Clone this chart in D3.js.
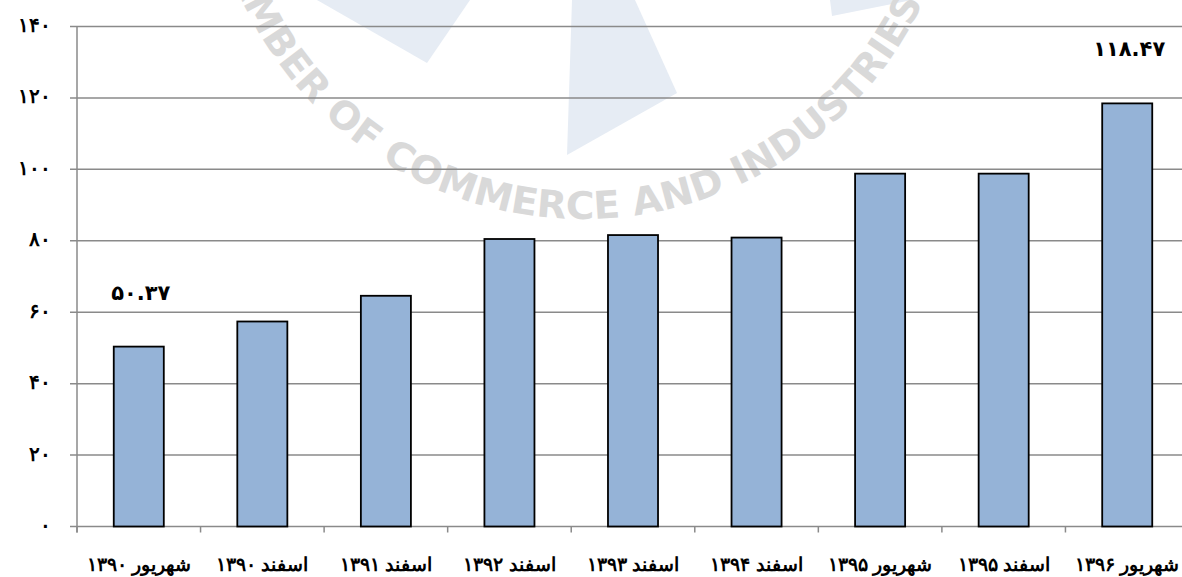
<!DOCTYPE html>
<html>
<head>
<meta charset="utf-8">
<script src="https://cdn.jsdelivr.net/npm/d3@7"></script>
<style>
    body { margin: 0; background: #ffffff; }
</style>
</head>
<body>
<div id="chart"></div>
<script>
// data
var categories = ["شهریور ۱۳۹۰", "اسفند ۱۳۹۰", "اسفند ۱۳۹۱", "اسفند ۱۳۹۲", "اسفند ۱۳۹۳",
    "اسفند ۱۳۹۴", "شهریور ۱۳۹۵", "اسفند ۱۳۹۵", "شهریور ۱۳۹۶"];
var values = [50.37, 57.4, 64.6, 80.5, 81.6, 80.9, 98.8, 98.8, 118.47];
var yTicks = [0, 20, 40, 60, 80, 100, 120, 140];
var labelledBars = [0, 8];   // only first and last bar have a value label

var width = 1182,
    height = 577;
var plotLeft = 77,
    plotRight = 1189,
    plotTop = 26.5,
    plotBottom = 526.5;

var faDigits = "۰۱۲۳۴۵۶۷۸۹";
function toFa(s) {
    return String(s).replace(/[0-9]/g, function (c) { return faDigits[+c]; });
}

var svg = d3.select("#chart").append("svg")
    .attr("width", width)
    .attr("height", height)
    .style("font-family", "'DejaVu Sans', sans-serif")
    .style("font-weight", "bold");

// faint watermark of the chamber logo behind the chart
var wm = svg.append("g").attr("class", "watermark");
var wmShapes = [
    [[317, 0], [470, 0], [427, 63]],
    [[572, 0], [635, 0], [677, 93], [567, 155]],
    [[830, 0], [912, 0], [832, 16]]
];
wm.selectAll("polygon")
    .data(wmShapes)
    .enter().append("polygon")
    .attr("points", function (d) { return d.map(function (p) { return p.join(","); }).join(" "); })
    .attr("fill", "#e6ecf4");
var arcR = 375;
var arcPath = d3.path();
arcPath.arc(583, -156, arcR, 169 * Math.PI / 180, 25 * Math.PI / 180, true);
wm.append("path")
    .attr("id", "wmArc")
    .attr("d", arcPath.toString())
    .attr("fill", "none");
wm.append("text")
    .attr("font-family", "'Liberation Sans Narrow', 'DejaVu Sans Condensed', sans-serif")
    .attr("font-size", 38)
    .attr("font-weight", "bold")
    .attr("fill", "#d9d9d9")
    .append("textPath")
    .attr("href", "#wmArc")
    .attr("textLength", arcR * (169 - 25) * Math.PI / 180)
    .attr("lengthAdjust", "spacingAndGlyphs")
    .text("CHAMBER OF COMMERCE AND INDUSTRIES");

var x = d3.scaleBand()
    .domain(categories)
    .range([plotLeft, plotRight])
    .paddingInner(0.595)
    .paddingOuter(0.2975);

var y = d3.scaleLinear()
    .domain([0, 140])
    .range([plotBottom, plotTop]);

// horizontal gridlines
svg.append("g")
    .selectAll("line")
    .data(yTicks)
    .enter().append("line")
    .attr("x1", plotLeft - 7)
    .attr("x2", plotRight)
    .attr("y1", function (d) { return y(d); })
    .attr("y2", function (d) { return y(d); })
    .attr("stroke", "#8a8a8a")
    .attr("stroke-width", 1.5);

// y axis
var yAxis = svg.append("g")
    .attr("transform", "translate(" + plotLeft + ",0)")
    .call(d3.axisLeft(y).tickValues(yTicks).tickFormat(toFa).tickSize(0).tickPadding(26));
yAxis.select(".domain").remove();
yAxis.selectAll("text")
    .attr("font-size", 20)
    .attr("letter-spacing", 4)
    .attr("dy", "0.25em")
    .attr("fill", "#000");
svg.append("line")
    .attr("x1", plotLeft).attr("x2", plotLeft)
    .attr("y1", plotTop).attr("y2", plotBottom + 6)
    .attr("stroke", "#8a8a8a")
    .attr("stroke-width", 1.5);

// category boundary ticks on the x axis
svg.append("g")
    .selectAll("line")
    .data(d3.range(categories.length + 1))
    .enter().append("line")
    .attr("x1", function (i) { return x.range()[0] + i * x.step(); })
    .attr("x2", function (i) { return x.range()[0] + i * x.step(); })
    .attr("y1", plotBottom)
    .attr("y2", plotBottom + 6)
    .attr("stroke", "#8a8a8a")
    .attr("stroke-width", 1.5);

// bars
svg.append("g")
    .selectAll("rect")
    .data(values)
    .enter().append("rect")
    .attr("x", function (d, i) { return x(categories[i]); })
    .attr("width", x.bandwidth())
    .attr("y", function (d) { return y(d); })
    .attr("height", function (d) { return y(0) - y(d); })
    .attr("fill", "#95b3d7")
    .attr("stroke", "#000")
    .attr("stroke-width", 1.8);

// category labels
var xAxis = svg.append("g")
    .attr("transform", "translate(0," + plotBottom + ")")
    .call(d3.axisBottom(x).tickSize(0).tickPadding(0));
xAxis.select(".domain").remove();
xAxis.selectAll("text")
    .attr("font-size", 19)
    .attr("direction", "rtl")
    .attr("dy", 44)
    .attr("fill", "#000");

// value labels
svg.append("g")
    .selectAll("text")
    .data(labelledBars)
    .enter().append("text")
    .attr("x", function (i) { return x(categories[i]) + x.bandwidth() / 2 + 2; })
    .attr("y", function (i) { return y(values[i]) - 47; })
    .attr("text-anchor", "middle")
    .attr("font-size", 21)
    .attr("letter-spacing", 4)
    .attr("fill", "#000")
    .text(function (i) { return toFa(values[i]); });
</script>
</body>
</html>
